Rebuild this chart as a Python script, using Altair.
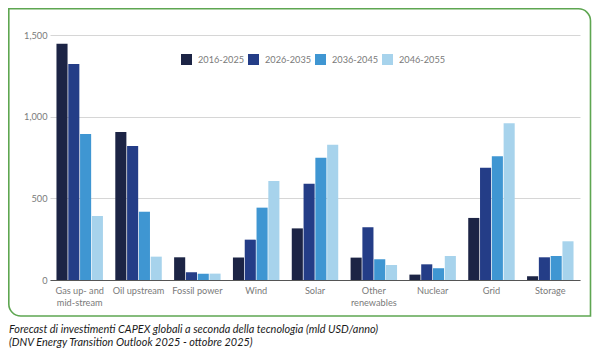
import altair as alt
import pandas as pd

categories = ["Gas up- and mid-stream", "Oil upstream", "Fossil power", "Wind", "Solar",
              "Other renewables", "Nuclear", "Grid", "Storage"]
periods = ["2016-2025", "2026-2035", "2036-2045", "2046-2055"]
v_2016_2025 = [1447, 906, 139, 137, 316, 137, 33, 380, 23]
v_2026_2035 = [1323, 820, 47, 247, 590, 323, 96, 688, 139]
v_2036_2045 = [894, 418, 39, 443, 748, 127, 72, 757, 147]
v_2046_2055 = [392, 143, 39, 606, 828, 92, 147, 960, 237]
colors = ["#1c2445", "#243d87", "#3f96d2", "#a7d3ec"]
y_ticks = [0, 500, 1000, 1500]
caption = ("Forecast di investimenti CAPEX globali a seconda della tecnologia (mld USD/anno)\n"
           "(DNV Energy Transition Outlook 2025 - ottobre 2025)")

series = [v_2016_2025, v_2026_2035, v_2036_2045, v_2046_2055]
rows = []
for p, vals in zip(periods, series):
    for c, v in zip(categories, vals):
        rows.append({"category": c, "period": p, "value": v})
df = pd.DataFrame(rows)

FONT = "Liberation Sans Narrow, Lato, sans-serif"
LABEL_COLOR = "#7a7a7a"

label_expr = ("datum.label == 'Gas up- and mid-stream' ? ['Gas up- and', 'mid-stream'] : "
              "datum.label == 'Other renewables' ? ['Other', 'renewables'] : datum.label")

bars = alt.Chart(df).mark_bar().encode(
    x=alt.X("category:N", sort=categories,
            scale=alt.Scale(paddingInner=0.21, paddingOuter=0.11),
            axis=alt.Axis(title=None, labelAngle=0, labelExpr=label_expr, ticks=False,
                          domain=True, domainColor="#555555", domainWidth=1,
                          labelPadding=6, labelColor=LABEL_COLOR,
                          labelFont=FONT, labelFontSize=9.2, labelLineHeight=12,
                          labelBaseline="top")),
    xOffset=alt.XOffset("period:N", sort=periods, scale=alt.Scale(paddingInner=0.06)),
    y=alt.Y("value:Q", scale=alt.Scale(domain=[0, 1500], nice=False),
            axis=alt.Axis(title=None, values=y_ticks, format=",.0f", formatType="number",
                          grid=True, gridColor="#d6d6d6", domain=False, ticks=False,
                          labelPadding=3, labelColor=LABEL_COLOR, labelFont=FONT,
                          labelFontSize=9.2)),
    color=alt.Color("period:N", sort=periods,
                    scale=alt.Scale(domain=periods, range=colors),
                    legend=alt.Legend(title=None, orient="none", legendX=131, legendY=19,
                                      direction="horizontal", symbolType="square",
                                      symbolSize=121, symbolStrokeWidth=0, labelOffset=6,
                                      columnPadding=3, labelFontSize=9.2,
                                      labelColor=LABEL_COLOR, labelFont=FONT, padding=0)),
)

frame = alt.Chart(pd.DataFrame({"f": [0]})).mark_rect(
    fillOpacity=0, stroke="#5ea651", strokeWidth=1.6,
    cornerRadiusTopRight=12, cornerRadiusBottomLeft=12
).encode(
    x=alt.value(-41.2), x2=alt.value(540.5), y=alt.value(-26.2), y2=alt.value(281)
)

cap = alt.Chart(pd.DataFrame({"c": [0]})).mark_text(
    align="left", baseline="alphabetic", font="Lato", fontStyle="italic",
    fontSize=10.9, color="#1a1a1a", lineBreak="\n", lineHeight=13
).encode(
    x=alt.value(-41), y=alt.value(298), text=alt.value(caption)
)

chart = alt.layer(frame, bars, cap).properties(
    width=530, height=245,
    padding={"left": 42, "top": 27, "right": 12, "bottom": 70},
    autosize=alt.AutoSizeParams(type="none"),
).configure_view(stroke=None)

chart.save("out.html", embed_options={"renderer": "svg", "actions": False})
